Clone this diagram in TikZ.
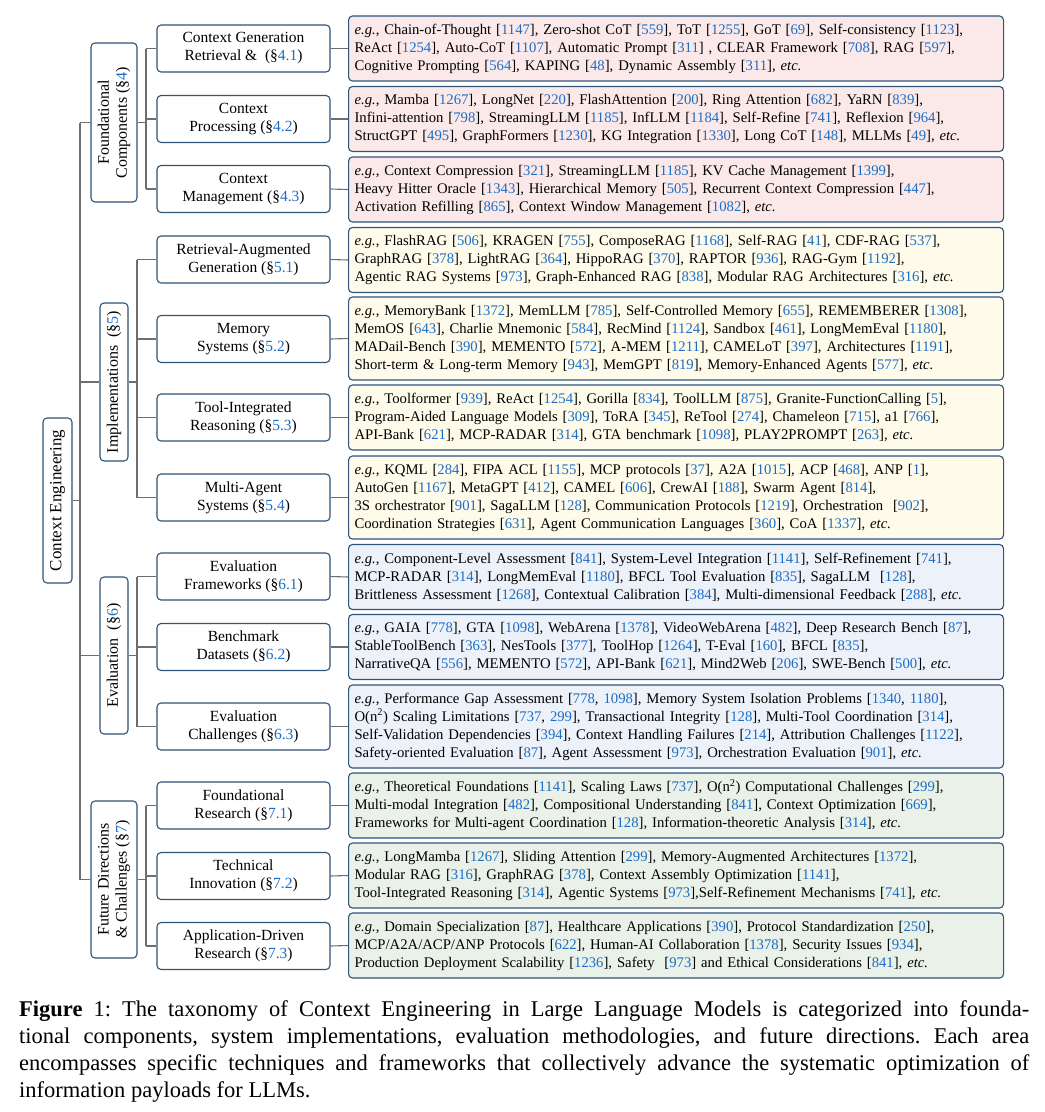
\documentclass[tikz,border=0pt]{standalone}
\usepackage{fontspec}
\setmainfont{Liberation Serif}
\usepackage{xcolor}
\definecolor{bordc}{HTML}{2E5478}
\definecolor{citec}{HTML}{1C6DC4}
\definecolor{linec}{HTML}{6E6E6E}
\definecolor{pinkf}{HTML}{FBE9E9}
\definecolor{yelf}{HTML}{FEFBEB}
\definecolor{bluf}{HTML}{EDF2FA}
\definecolor{grnf}{HTML}{E9F1E9}
\newcommand\cc[1]{\textcolor{citec}{#1}}
\newcommand\eg{\textit{e.g.},}
\newcommand\etcx{\textit{etc.}}
\frenchspacing
\begin{document}
\begin{tikzpicture}[x=1pt,y=-1pt,
 box/.style={draw=bordc, line width=1.1pt, rounded corners=4pt, fill=white, font=\fontsize{15.5}{18}\selectfont, align=center, inner sep=2pt},
 catbox/.style={box, rotate=90, font=\fontsize{16}{18}\selectfont},
 subbox/.style={box, minimum width=173pt, minimum height=47pt},
 leaf/.style={box, anchor=west, minimum width=655pt, text width=643pt, align=left, inner xsep=6pt, inner ysep=0pt, font=\fontsize{14.7}{18}\selectfont},
 leafthree/.style={leaf, minimum height=65pt},
 leaffour/.style={leaf, minimum height=83pt},
 conn/.style={draw=linec, line width=1.1pt},
]
\useasboundingbox (0,0) rectangle (1045,1112);

% root and categories
\node[catbox, minimum width=165pt, minimum height=29pt, font=\fontsize{17}{18}\selectfont] (root) at (57.5,500.5) {Context Engineering};
\node[catbox, minimum width=159pt, minimum height=46pt] (c4) at (114,122.5) {Foundational\\Components (§\cc{4})};
\node[catbox, minimum width=158pt, minimum height=28pt] (c5) at (114,382) {Implementations~~(§\cc{5})};
\node[catbox, minimum width=157pt, minimum height=28pt] (c6) at (114,655.5) {Evaluation~~(§\cc{6})};
\node[catbox, minimum width=157pt, minimum height=46pt] (c7) at (114,879.5) {Future Directions\\\& Challenges (§\cc{7})};

% sub nodes
\node[subbox] (s41) at (243.5,48.5) {Context Generation\\Retrieval \&~~(§\cc{4.1})};
\node[subbox] (s42) at (243.5,119) {Context\\Processing (§\cc{4.2})};
\node[subbox] (s43) at (243.5,189) {Context\\Management (§\cc{4.3})};
\node[subbox] (s51) at (243.5,259.5) {Retrieval-Augmented\\Generation (§\cc{5.1})};
\node[subbox] (s52) at (243.5,339) {Memory\\Systems (§\cc{5.2})};
\node[subbox] (s53) at (243.5,417.5) {Tool-Integrated\\Reasoning (§\cc{5.3})};
\node[subbox] (s54) at (243.5,497.5) {Multi-Agent\\Systems (§\cc{5.4})};
\node[subbox] (s61) at (243.5,576.5) {Evaluation\\Frameworks (§\cc{6.1})};
\node[subbox] (s62) at (243.5,647) {Benchmark\\Datasets (§\cc{6.2})};
\node[subbox] (s63) at (243.5,726.5) {Evaluation\\Challenges (§\cc{6.3})};
\node[subbox] (s71) at (243.5,805.5) {Foundational\\Research (§\cc{7.1})};
\node[subbox] (s72) at (243.5,876) {Technical\\Innovation (§\cc{7.2})};
\node[subbox] (s73) at (243.5,946) {Application-Driven\\Research (§\cc{7.3})};

% leaves
\node[leafthree, fill=pinkf] (l41) at (348,48.5) {\eg{} Chain-of-Thought [\cc{1147}], Zero-shot CoT [\cc{559}], ToT [\cc{1255}], GoT [\cc{69}], Self-consistency [\cc{1123}],\\ReAct [\cc{1254}], Auto-CoT [\cc{1107}], Automatic Prompt [\cc{311}] , CLEAR Framework [\cc{708}], RAG [\cc{597}],\\Cognitive Prompting [\cc{564}], KAPING [\cc{48}], Dynamic Assembly [\cc{311}], \etcx};
\node[leafthree, fill=pinkf] (l42) at (348,119) {\eg{} Mamba [\cc{1267}], LongNet [\cc{220}], FlashAttention [\cc{200}], Ring Attention [\cc{682}], YaRN [\cc{839}],\\Infini-attention [\cc{798}], StreamingLLM [\cc{1185}], InfLLM [\cc{1184}], Self-Refine [\cc{741}], Reflexion [\cc{964}],\\StructGPT [\cc{495}], GraphFormers [\cc{1230}], KG Integration [\cc{1330}], Long CoT [\cc{148}], MLLMs [\cc{49}], \etcx};
\node[leafthree, fill=pinkf] (l43) at (348,189.5) {\eg{} Context Compression [\cc{321}], StreamingLLM [\cc{1185}], KV Cache Management [\cc{1399}],\\Heavy Hitter Oracle [\cc{1343}], Hierarchical Memory [\cc{505}], Recurrent Context Compression [\cc{447}],\\Activation Refilling [\cc{865}], Context Window Management [\cc{1082}], \etcx};
\node[leafthree, fill=yelf] (l51) at (348,260) {\eg{} FlashRAG [\cc{506}], KRAGEN [\cc{755}], ComposeRAG [\cc{1168}], Self-RAG [\cc{41}], CDF-RAG [\cc{537}],\\GraphRAG [\cc{378}], LightRAG [\cc{364}], HippoRAG [\cc{370}], RAPTOR [\cc{936}], RAG-Gym [\cc{1192}],\\Agentic RAG Systems [\cc{973}], Graph-Enhanced RAG [\cc{838}], Modular RAG Architectures [\cc{316}], \etcx};
\node[leaffour, fill=yelf] (l52) at (348,338.5) {\eg{} MemoryBank [\cc{1372}], MemLLM [\cc{785}], Self-Controlled Memory [\cc{655}], REMEMBERER [\cc{1308}],\\MemOS [\cc{643}], Charlie Mnemonic [\cc{584}], RecMind [\cc{1124}], Sandbox [\cc{461}], LongMemEval [\cc{1180}],\\MADail-Bench [\cc{390}], MEMENTO [\cc{572}], A-MEM [\cc{1211}], CAMELoT [\cc{397}], Architectures [\cc{1191}],\\Short-term \& Long-term Memory [\cc{943}], MemGPT [\cc{819}], Memory-Enhanced Agents [\cc{577}], \etcx};
\node[leafthree, fill=yelf] (l53) at (348,417.5) {\eg{} Toolformer [\cc{939}], ReAct [\cc{1254}], Gorilla [\cc{834}], ToolLLM [\cc{875}], Granite-FunctionCalling [\cc{5}],\\Program-Aided Language Models [\cc{309}], ToRA [\cc{345}], ReTool [\cc{274}], Chameleon [\cc{715}], a1 [\cc{766}],\\API-Bank [\cc{621}], MCP-RADAR [\cc{314}], GTA benchmark [\cc{1098}], PLAY2PROMPT [\cc{263}], \etcx};
\node[leaffour, fill=yelf] (l54) at (348,497.5) {\eg{} KQML [\cc{284}], FIPA ACL [\cc{1155}], MCP protocols [\cc{37}], A2A [\cc{1015}], ACP [\cc{468}], ANP [\cc{1}],\\AutoGen [\cc{1167}], MetaGPT [\cc{412}], CAMEL [\cc{606}], CrewAI [\cc{188}], Swarm Agent [\cc{814}],\\3S orchestrator [\cc{901}], SagaLLM [\cc{128}], Communication Protocols [\cc{1219}], Orchestration~~[\cc{902}],\\Coordination Strategies [\cc{631}], Agent Communication Languages [\cc{360}], CoA [\cc{1337}], \etcx};
\node[leafthree, fill=bluf] (l61) at (348,577) {\eg{} Component-Level Assessment [\cc{841}], System-Level Integration [\cc{1141}], Self-Refinement [\cc{741}],\\MCP-RADAR [\cc{314}], LongMemEval [\cc{1180}], BFCL Tool Evaluation [\cc{835}], SagaLLM~~[\cc{128}],\\Brittleness Assessment [\cc{1268}], Contextual Calibration [\cc{384}], Multi-dimensional Feedback [\cc{288}], \etcx};
\node[leafthree, fill=bluf] (l62) at (348,647) {\eg{} GAIA [\cc{778}], GTA [\cc{1098}], WebArena [\cc{1378}], VideoWebArena [\cc{482}], Deep Research Bench [\cc{87}],\\StableToolBench [\cc{363}], NesTools [\cc{377}], ToolHop [\cc{1264}], T-Eval [\cc{160}], BFCL [\cc{835}],\\NarrativeQA [\cc{556}], MEMENTO [\cc{572}], API-Bank [\cc{621}], Mind2Web [\cc{206}], SWE-Bench [\cc{500}], \etcx};
\node[leaffour, fill=bluf] (l63) at (348,726.5) {\eg{} Performance Gap Assessment [\cc{778}, \cc{1098}], Memory System Isolation Problems [\cc{1340}, \cc{1180}],\\O(n\textsuperscript{2}) Scaling Limitations [\cc{737}, \cc{299}], Transactional Integrity [\cc{128}], Multi-Tool Coordination [\cc{314}],\\Self-Validation Dependencies [\cc{394}], Context Handling Failures [\cc{214}], Attribution Challenges [\cc{1122}],\\Safety-oriented Evaluation [\cc{87}], Agent Assessment [\cc{973}], Orchestration Evaluation [\cc{901}], \etcx};
\node[leafthree, fill=grnf] (l71) at (348,805.5) {\eg{} Theoretical Foundations [\cc{1141}], Scaling Laws [\cc{737}], O(n\textsuperscript{2}) Computational Challenges [\cc{299}],\\Multi-modal Integration [\cc{482}], Compositional Understanding [\cc{841}], Context Optimization [\cc{669}],\\Frameworks for Multi-agent Coordination [\cc{128}], Information-theoretic Analysis [\cc{314}], \etcx};
\node[leafthree, fill=grnf] (l72) at (348,875.5) {\eg{} LongMamba [\cc{1267}], Sliding Attention [\cc{299}], Memory-Augmented Architectures [\cc{1372}],\\Modular RAG [\cc{316}], GraphRAG [\cc{378}], Context Assembly Optimization [\cc{1141}],\\Tool-Integrated Reasoning [\cc{314}], Agentic Systems [\cc{973}],Self-Refinement Mechanisms [\cc{741}], \etcx};
\node[leafthree, fill=grnf] (l73) at (348,945.5) {\eg{} Domain Specialization [\cc{87}], Healthcare Applications [\cc{390}], Protocol Standardization [\cc{250}],\\MCP/A2A/ACP/ANP Protocols [\cc{622}], Human-AI Collaboration [\cc{1378}], Security Issues [\cc{934}],\\Production Deployment Scalability [\cc{1236}], Safety~~[\cc{973}] and Ethical Considerations [\cc{841}], \etcx};

% connectors
\coordinate (tk) at (80,0);
\coordinate (s4x) at (146,0);
\coordinate (s5x) at (137,0);
\draw[conn] (root.south) -- (root.south -| tk);
\draw[conn] (c4.north -| tk) -- (c7.north -| tk);
\foreach \c in {c4,c5,c6,c7} \draw[conn] (\c.north -| tk) -- (\c.north);
% category 4
\draw[conn] (c4.south) -- (c4.south -| s4x);
\draw[conn] (s41.west -| s4x) -- (s43.west -| s4x);
\foreach \s in {s41,s42,s43} \draw[conn] (\s.west -| s4x) -- (\s.west);
% category 5
\draw[conn] (c5.south) -- (c5.south -| s5x);
\draw[conn] (s51.west -| s5x) -- (s54.west -| s5x);
\foreach \s in {s51,s52,s53,s54} \draw[conn] (\s.west -| s5x) -- (\s.west);
% category 6
\draw[conn] (c6.south) -- (c6.south -| s5x);
\draw[conn] (s61.west -| s5x) -- (s63.west -| s5x);
\foreach \s in {s61,s62,s63} \draw[conn] (\s.west -| s5x) -- (\s.west);
% category 7
\draw[conn] (c7.south) -- (c7.south -| s4x);
\draw[conn] (s71.west -| s4x) -- (s73.west -| s4x);
\foreach \s in {s71,s72,s73} \draw[conn] (\s.west -| s4x) -- (\s.west);
% leaves
\foreach \n in {41,42,43,51,52,53,54,61,62,63,71,72,73} \draw[conn] (s\n.east) -- (l\n.west);

% caption
\node[anchor=north west, inner sep=0pt, text width=1010pt, align=justify, font=\fontsize{22.5}{27}\selectfont] (cap) at (19,1000) {\textbf{Figure} 1: The taxonomy of Context Engineering in Large Language Models is categorized into founda-\linebreak tional components, system implementations, evaluation methodologies, and future directions. Each area\linebreak encompasses specific techniques and frameworks that collectively advance the systematic optimization of\linebreak information payloads for LLMs.};
\end{tikzpicture}
\end{document}
